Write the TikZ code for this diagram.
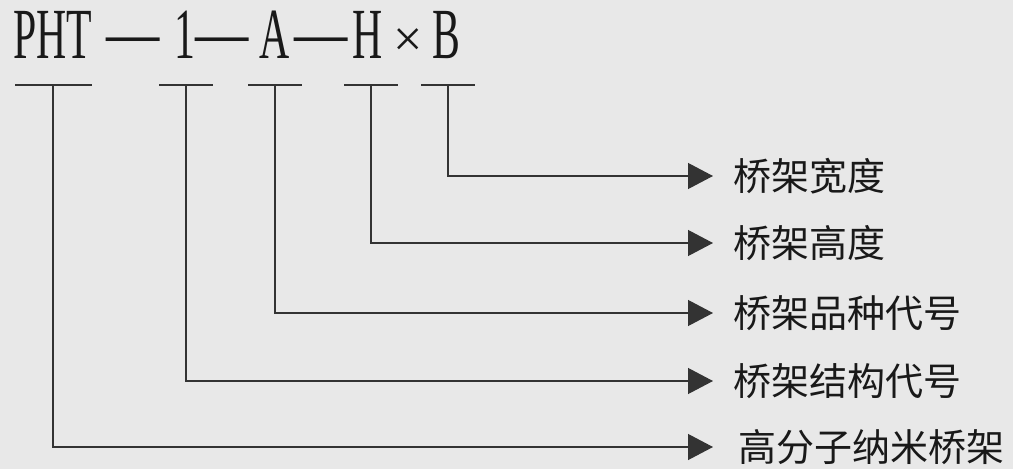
\documentclass[tikz,border=0pt]{standalone}
\usepackage{fontspec}
\setmainfont{Liberation Serif}
\newfontfamily\codefont[FakeStretch=0.58]{Liberation Serif}
\newfontfamily\dashfont[FakeStretch=0.74]{Liberation Serif}
\newfontfamily\cjk{Noto Sans CJK SC}
\usetikzlibrary{arrows.meta, positioning}

\begin{document}
\begin{tikzpicture}[x=1pt, y=-1pt,
        % Define common styles
        code/.style={font=\codefont\fontsize{72}{72}\selectfont, text=black!90, inner sep=0pt, anchor=base},
        dash_sign/.style={font=\dashfont\fontsize{72}{72}\selectfont, text=black!90, inner sep=0pt, anchor=base},
        times_sign/.style={font=\rmfamily\fontsize{52}{52}\selectfont, text=black!90, inner sep=0pt, anchor=base},
        label/.style={font=\cjk\fontsize{38}{38}\selectfont, text=black!90, inner sep=0pt, anchor=west},
        rule/.style={draw=black!80, line width=1.2pt},
        line/.style={draw=black!80, line width=1.2pt, -{Triangle[length=25pt, width=26pt]}},
    ]

    % Background
    \fill[black!9] (0,0) rectangle (1013,469);

    % Product code
    \node (pht) [code] at (53,58) {PHT};
    \node (dash_a) [dash_sign] at (133,56) {—};
    \node (one) [code] at (185,58) {1};
    \node (dash_b) [dash_sign] at (222,56) {—};
    \node (typ) [code] at (275,58) {A};
    \node (dash_c) [dash_sign] at (321,56) {—};
    \node (hgt) [code] at (368,58) {H};
    \node (times) [times_sign] at (408,56) {×};
    \node (wid) [code] at (446,58) {B};

    % Underlines below the code
    \coordinate (u_pht) at (53,85);
    \coordinate (u_one) at (186,85);
    \coordinate (u_typ) at (275,85);
    \coordinate (u_hgt) at (371,85);
    \coordinate (u_wid) at (448,85);
    \draw[rule] ([xshift=-38]u_pht) -- ([xshift=39]u_pht);
    \foreach \u in {u_one, u_typ, u_hgt, u_wid}
        \draw[rule] ([xshift=-27]\u) -- ([xshift=27]\u);

    % Meaning of each part
    \node (lbl_wid) [label] at (733,176) {桥架宽度};
    \node (lbl_hgt) [label] at (733,243) {桥架高度};
    \node (lbl_typ) [label] at (733,313) {桥架品种代号};
    \node (lbl_one) [label] at (733,381) {桥架结构代号};
    \node (lbl_pht) [label] at (738,447) {高分子纳米桥架};

    % Draw connections/arrows
    \draw[line] (u_wid) |- ([xshift=-20]lbl_wid.west);
    \draw[line] (u_hgt) |- ([xshift=-20]lbl_hgt.west);
    \draw[line] (u_typ) |- ([xshift=-20]lbl_typ.west);
    \draw[line] (u_one) |- ([xshift=-20]lbl_one.west);
    \draw[line] (u_pht) |- ([xshift=-25]lbl_pht.west);

\end{tikzpicture}
\end{document}
